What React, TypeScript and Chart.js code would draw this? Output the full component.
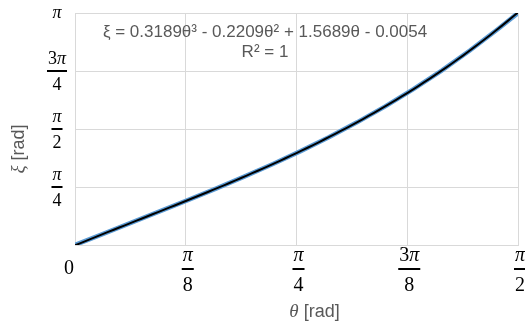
import React, { useEffect, useRef } from "react";
import { Chart, registerables } from "chart.js";

Chart.register(...registerables);

const PI = Math.PI;

// Sampled deflection angle θ (rad) and resulting ξ (rad)
const thetaValues = [0, 0.1, 0.2, 0.3, 0.4, 0.5, 0.6, 0.7, 0.8, 0.9, 1.0, 1.1, 1.2, 1.3, 1.4, 1.5, 1.5708];
const xiValues = [0, 0.15, 0.302, 0.455, 0.608, 0.764, 0.925, 1.094, 1.271, 1.46, 1.661, 1.877, 2.11, 2.361, 2.633, 2.926, 3.1416];

// Cubic trendline, coefficients from highest power down
const trendCoefficients = [0.3189, -0.2209, 1.5689, -0.0054];
const trendEquation = "ξ = 0.3189θ³ - 0.2209θ² + 1.5689θ - 0.0054";
const trendR2 = "R² = 1";

// Axis ticks in multiples of π
const xTickValues = [0, PI / 8, PI / 4, (3 * PI) / 8, PI / 2];
const xTickLabels = ["0", "π/8", "π/4", "3π/8", "π/2"];
const yTickValues = [0, PI / 4, PI / 2, (3 * PI) / 4, PI];
const yTickLabels = ["", "π/4", "π/2", "3π/4", "π"];

const xTitle = ["θ", " [rad]"];
const yTitle = ["ξ", " [rad]"];

const SERIF = '"Liberation Serif", "DejaVu Serif", serif';
const SANS = '"Liberation Sans", Arial, sans-serif';
const TEXT_GREY = "#595959";
const GRID = "#d9d9d9";

function trend(t: number): number {
  return trendCoefficients.reduce((acc, c) => acc * t + c, 0);
}

type Run = { text: string; font: string };

function mathRuns(text: string, size: number): Run[] {
  return Array.from(text).map((ch) => ({
    text: ch,
    font: ch === "π" ? `italic ${size}px ${SERIF}` : `${size}px ${SERIF}`,
  }));
}

function runsWidth(ctx: CanvasRenderingContext2D, runs: Run[]): number {
  let w = 0;
  for (const r of runs) {
    ctx.font = r.font;
    w += ctx.measureText(r.text).width;
  }
  return w;
}

function drawRuns(ctx: CanvasRenderingContext2D, runs: Run[], cx: number, y: number) {
  const total = runsWidth(ctx, runs);
  let x = cx - total / 2;
  ctx.textAlign = "left";
  for (const r of runs) {
    ctx.font = r.font;
    ctx.fillText(r.text, x, y);
    x += ctx.measureText(r.text).width;
  }
}

// A label such as "3π/8" is set as a stacked fraction; barY is the fraction bar
function drawMathLabel(ctx: CanvasRenderingContext2D, label: string, cx: number, barY: number, size: number) {
  if (!label) return;
  const parts = label.split("/");
  if (parts.length === 1) {
    ctx.textBaseline = "middle";
    drawRuns(ctx, mathRuns(parts[0], size), cx, barY);
    return;
  }
  const num = mathRuns(parts[0], size);
  const den = mathRuns(parts[1], size);
  const w = Math.max(runsWidth(ctx, num), runsWidth(ctx, den)) + 2;
  ctx.textBaseline = "alphabetic";
  drawRuns(ctx, num, cx, barY - 0.4 * size);
  drawRuns(ctx, den, cx, barY + 1.08 * size);
  ctx.fillRect(cx - w / 2, barY - 1, w, 2);
}

const labelPlugin = {
  id: "mathLabels",
  afterDraw(chart: any) {
    const ctx: CanvasRenderingContext2D = chart.ctx;
    const xs = chart.scales.x;
    const ys = chart.scales.y;
    const area = chart.chartArea;
    ctx.save();

    // tick labels (the zero label sits a little left of its gridline)
    ctx.fillStyle = "#000";
    xTickValues.forEach((v, i) => {
      const px = xs.getPixelForValue(v) + (i === 0 ? -6 : 2);
      drawMathLabel(ctx, xTickLabels[i], px, area.bottom + 24, 20);
    });
    yTickValues.forEach((v, i) => {
      const py = ys.getPixelForValue(v);
      drawMathLabel(ctx, yTickLabels[i], area.left - 18, py, 18);
    });

    // axis titles
    ctx.fillStyle = TEXT_GREY;
    ctx.textBaseline = "middle";
    const titleRuns = (parts: string[]): Run[] => [
      { text: parts[0], font: `italic 19px ${SERIF}` },
      { text: parts[1], font: `18px ${SANS}` },
    ];
    drawRuns(ctx, titleRuns(xTitle), (area.left + area.right) / 2 + 18, 312);
    ctx.save();
    ctx.translate(19, (area.top + area.bottom) / 2 + 20);
    ctx.rotate(-Math.PI / 2);
    drawRuns(ctx, titleRuns(yTitle), 0, 0);
    ctx.restore();

    // trendline equation
    ctx.font = `17px ${SANS}`;
    ctx.textAlign = "center";
    ctx.textBaseline = "middle";
    ctx.fillText(trendEquation, 265, 32);
    ctx.fillText(trendR2, 265, 52);

    ctx.restore();
  },
};

export default function App() {
  const canvasRef = useRef<HTMLCanvasElement | null>(null);

  useEffect(() => {
    document.body.style.margin = "0";
    const canvas = canvasRef.current;
    if (!canvas) return;

    const dataPoints = thetaValues.map((t, i) => ({ x: t, y: xiValues[i] }));
    const tMax = thetaValues[thetaValues.length - 1];
    const trendPoints = Array.from({ length: 81 }, (_, i) => {
      const t = (tMax * i) / 80;
      return { x: t, y: trend(t) };
    });

    const chart = new Chart(canvas, {
      type: "scatter",
      data: {
        datasets: [
          {
            label: "Poly. (ξ)",
            data: trendPoints,
            showLine: true,
            borderColor: "#000000",
            borderWidth: 2,
            pointRadius: 0,
            order: 0,
          },
          {
            label: "ξ",
            data: dataPoints,
            showLine: true,
            borderColor: "#5B9BD5",
            borderWidth: 4.5,
            pointRadius: 0,
            order: 1,
          },
        ],
      },
      options: {
        animation: false,
        responsive: false,
        layout: { padding: { left: 75, right: 7, top: 13, bottom: 82 } },
        plugins: {
          legend: { display: false },
          tooltip: { enabled: false },
        },
        scales: {
          x: {
            type: "linear",
            min: 0,
            max: PI / 2,
            afterBuildTicks: (scale: any) => {
              scale.ticks = xTickValues.map((value) => ({ value }));
            },
            ticks: { display: false },
            grid: { color: GRID, lineWidth: 1, drawTicks: false },
            border: { color: GRID },
          },
          y: {
            type: "linear",
            min: 0,
            max: PI,
            afterBuildTicks: (scale: any) => {
              scale.ticks = yTickValues.map((value) => ({ value }));
            },
            ticks: { display: false },
            grid: { color: GRID, lineWidth: 1, drawTicks: false },
            border: { color: GRID },
          },
        },
      },
      plugins: [labelPlugin],
    } as any);

    return () => chart.destroy();
  }, []);

  return (
    <div style={{ width: 525, height: 327, background: "#fff" }}>
      <canvas ref={canvasRef} width={525} height={327} style={{ display: "block" }} />
    </div>
  );
}
